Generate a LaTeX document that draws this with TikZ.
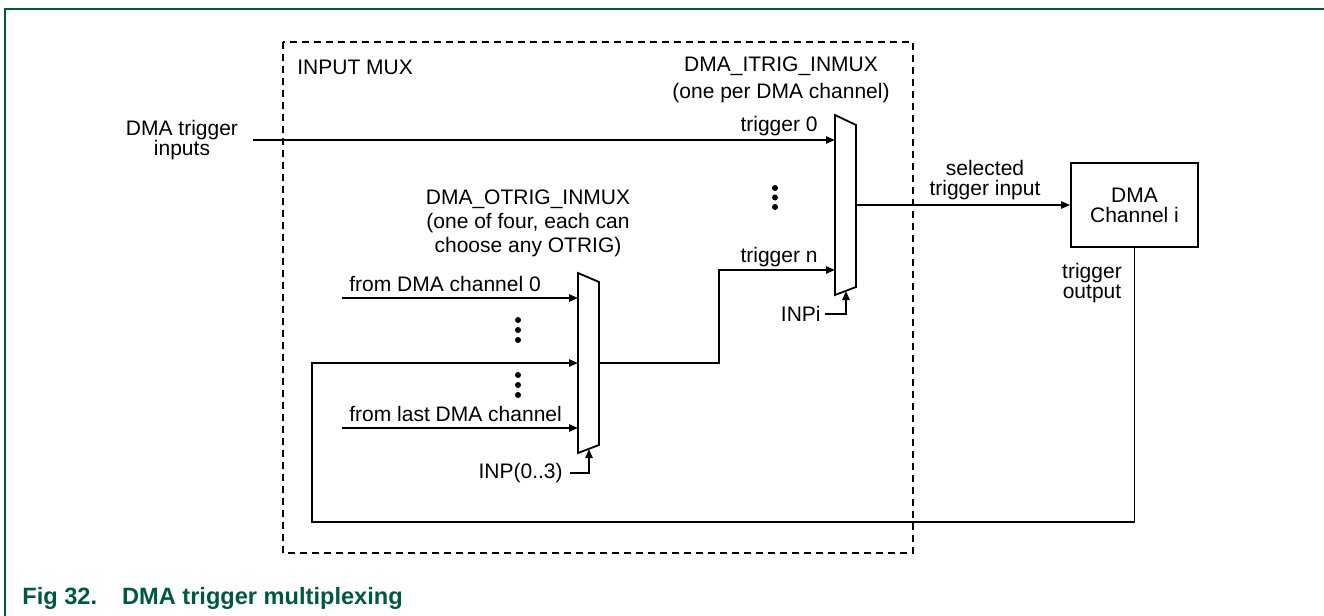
\documentclass[tikz,border=0pt]{standalone}
\usepackage{fontspec}
\setmainfont{Liberation Sans}
\usetikzlibrary{arrows.meta}
\definecolor{nxpgreen}{RGB}{0,88,68}
\begin{document}
\begin{tikzpicture}[x=0.5pt,y=-0.5pt,
  wire/.style={line width=0.9pt},
  arr/.style={wire,-{Triangle[length=4.5pt,width=3.6pt]}},
  muxshape/.style={line width=0.9pt,fill=white,line join=miter},
  lbl/.style={font=\fontsize{10.5}{10.5}\selectfont,inner sep=0pt,align=center},
  dotnode/.style={circle,fill=black,inner sep=0pt,minimum size=3pt},
  boxnode/.style={draw,line width=0.9pt,minimum width=63.5pt,minimum height=42pt,
    font=\fontsize{10.5}{10.5}\selectfont,align=center,inner sep=0pt},
  groupbox/.style={line width=0.8pt,dash pattern=on 3.5pt off 2.5pt}]
\useasboundingbox (0,0) rectangle (1324,616);
% frame
\draw[nxpgreen,line width=1pt] (5,616) -- (5,9) -- (1324,9);
% dashed group
\draw[groupbox] (283,42) rectangle (913,553);
\node[lbl,anchor=west] (inmuxlbl) at (297,67) {INPUT MUX};
% muxes
\draw[muxshape] (835,115) -- (856,125) -- (856,287) -- (835,295) -- cycle;
\draw[muxshape] (578,273) -- (599,282) -- (599,445) -- (578,453) -- cycle;
% ports
\coordinate (itrig0) at (835,140);
\coordinate (itrign) at (835,270);
\coordinate (itrigout) at (856,205);
\coordinate (itrigsel) at (846,291);
\coordinate (otrig0) at (578,298);
\coordinate (otrigfb) at (578,363);
\coordinate (otriglast) at (578,428);
\coordinate (otrigout) at (599,363);
\coordinate (otrigsel) at (589,449);
% DMA channel box
\node[boxnode] (dma) at (1134.5,205) {DMA\\[-0.5pt]Channel i};
% labels
\node[lbl] (dtin) at (182,140) {DMA trigger\\[-0.8pt]inputs};
\node[lbl] (itriglbl) at (781,80) {DMA\_ITRIG\_INMUX\\[3pt](one per DMA channel)};
\node[lbl] (otriglbl) at (528,223) {DMA\_OTRIG\_INMUX\\[1.5pt](one of four, each can\\[1.5pt]choose any OTRIG)};
\node[lbl,anchor=east] (t0lbl) at (818,126) {trigger 0};
\node[lbl,anchor=east] (tnlbl) at (818,257) {trigger n};
\node[lbl,anchor=west] (f0lbl) at (349,284) {from DMA channel 0};
\node[lbl,anchor=west] (fllbl) at (349,414) {from last DMA channel};
\node[lbl,anchor=east] (inpilbl) at (821,314) {INPi};
\node[lbl,anchor=east] (inplbl) at (563,473) {INP(0..3)};
\node[lbl] (sellbl) at (985,180) {selected\\[-0.5pt]trigger input};
\node[lbl] (toutlbl) at (1092,283) {trigger\\[-0.8pt]output};
% dots
\foreach \y [count=\i] in {188,197.5,207} \node[dotnode] (d1\i) at (775,\y) {};
\foreach \y [count=\i] in {320,330,340} \node[dotnode] (d2\i) at (518,\y) {};
\foreach \y [count=\i] in {375,385,395} \node[dotnode] (d3\i) at (518,\y) {};
% wire start points
\coordinate (trigin) at (253,140);
\coordinate (in0) at (342,298);
\coordinate (inlast) at (342,428);
\coordinate (fbl) at (312,522);
\coordinate (jog) at (719,270);
\coordinate (inpis) at (825,314);
\coordinate (inps) at (570,473);
% connectors
\draw[arr] (trigin) -- (itrig0);
\draw[arr] (in0) -- (otrig0);
\draw[arr] (inlast) -- (otriglast);
\draw[arr] (otrigout) -| (jog) -- (itrign);
\draw[arr] (itrigout) -- (dma.west);
\draw[arr] (dma.south) |- (fbl) |- (otrigfb);
\draw[arr] (inpis) -| (itrigsel);
\draw[arr] (inps) -| (otrigsel);
% caption
\node[font=\fontsize{11.8}{12}\selectfont\bfseries,text=nxpgreen,anchor=west,inner sep=0pt] (cap) at (22,598) {Fig 32.\hspace{12.5pt}DMA trigger multiplexing};
\end{tikzpicture}
\end{document}
